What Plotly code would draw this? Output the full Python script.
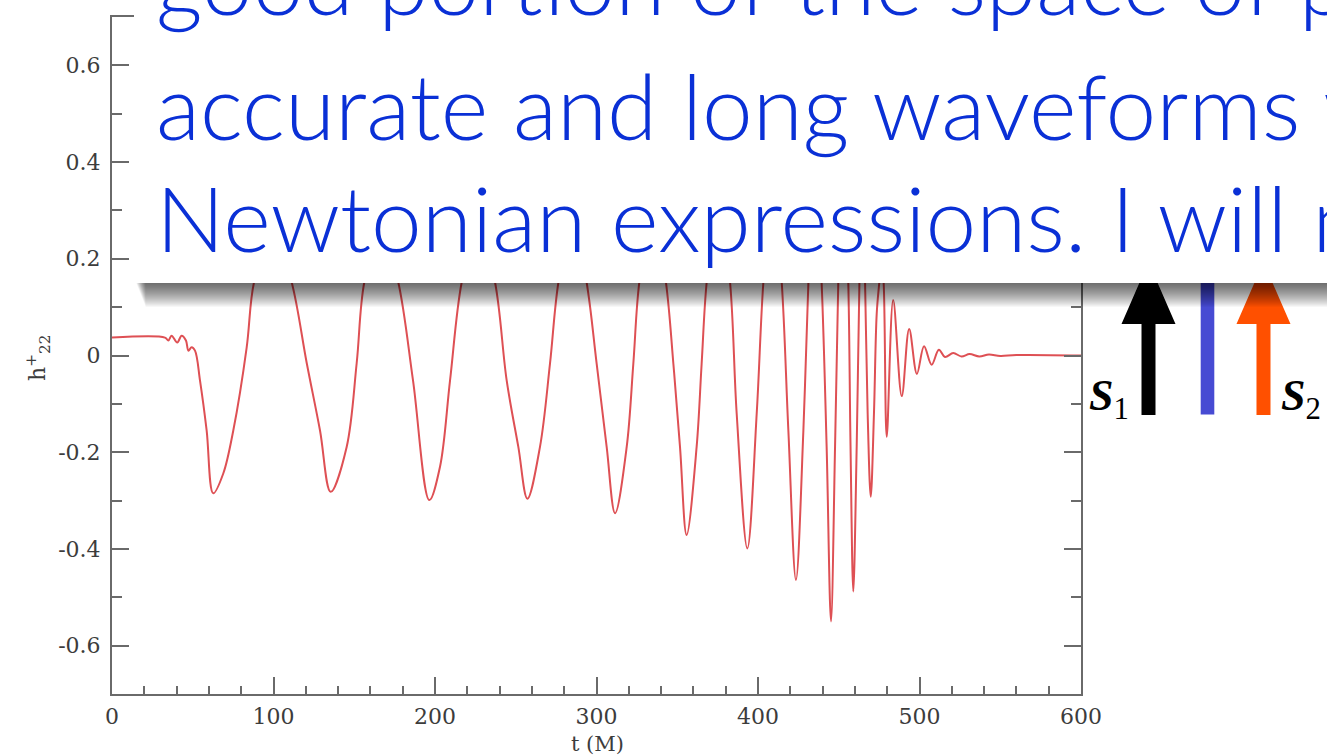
import plotly.graph_objects as go

# ---------------- data ----------------
t_M = [0, 32.8, 34.9, 36.9, 40.4, 43.1, 45.8, 47.3, 49.3, 51.4, 54.5, 58.6, 62.7, 68.9, 75.1, 83.4, 87.9,
       99.5, 111.3, 120.6, 128.8, 135.4, 145.3, 151.5, 156.2,
       166.7, 177.3, 186.4, 196.5, 203.1, 209.3, 216.5,
       226.8, 237.2, 244.4, 251.6, 257.2, 265.0, 271.2, 276.4,
       285.2, 293.9, 300.1, 306.3, 311.5, 318.7, 322.8, 326.5,
       334.8, 343.0, 347.6, 351.7, 355.8, 362.0, 365.1, 368.2,
       375.4, 382.7, 386.8, 393.4, 399.2, 403.3,
       409.0, 414.7, 418.8, 423.5, 428.1, 431.2,
       435.3, 439.4, 442.5, 445.2, 447.7, 449.7,
       452.8, 455.9, 457.3, 459.0, 461.1, 462.8,
       464.6, 466.3, 467.9, 469.8, 471.8, 473.5, 475.1,
       476.5, 477.8, 479.7, 483.7, 489.0, 493.6, 498.4, 502.8, 507.5, 512.0, 515.8,
       520.9, 526.0, 531.0, 537.0, 543.0, 550.0, 560.0, 600.0]
h22 = [0.037, 0.037, 0.031, 0.041, 0.027, 0.041, 0.031, 0.010, 0.017, 0.010, -0.052, -0.155, -0.285, -0.244, -0.155, 0.017, 0.151,
       0.27, 0.151, -0.016, -0.155, -0.282, -0.189, -0.016, 0.151,
       0.27, 0.151, -0.052, -0.299, -0.230, -0.052, 0.151,
       0.28, 0.151, -0.052, -0.189, -0.296, -0.189, -0.017, 0.151,
       0.29, 0.151, -0.017, -0.189, -0.326, -0.189, -0.017, 0.151,
       0.31, 0.151, -0.017, -0.189, -0.371, -0.189, -0.017, 0.151,
       0.34, 0.151, -0.120, -0.399, -0.120, 0.151,
       0.37, 0.151, -0.155, -0.464, -0.155, 0.151,
       0.42, 0.151, -0.189, -0.550, -0.189, 0.151,
       0.46, 0.151, -0.189, -0.488, -0.189, 0.151,
       0.40, 0.151, -0.120, -0.292, -0.120, 0.086, 0.151,
       0.20, 0.151, -0.168, 0.115, -0.084, 0.055, -0.038, 0.019, -0.019, 0.012, -0.003,
       0.005, -0.002, 0.003, -0.002, 0.002, -0.001, 0.001, 0.0]

x_ticks = [0, 100, 200, 300, 400, 500, 600]
x_ticktext = ["0", "100", "200", "300", "400", "500", "600"]
y_ticks = [-0.6, -0.4, -0.2, 0, 0.2, 0.4, 0.6]
y_ticktext = ["-0.6", "-0.4", "-0.2", "0", "0.2", "0.4", "0.6"]

slide_lines = ["good portion of the space of parameters",
               "accurate and long waveforms with",
               "Newtonian expressions. I will now"]

# ---------------- layout helpers ----------------
W, H = 1327, 756
L, R, T, B = 112, 246, 17, 62
PW, PH = W - L - R, H - T - B


def px(x):
    return (x - L) / PW


def py(y):
    return (H - B - y) / PH


AX = "#6a6a6a"
TXT = "#3c3c3c"
TICKFONT = dict(family="DejaVu Serif", size=22, color=TXT)

fig = go.Figure()
fig.add_trace(go.Scatter(x=t_M, y=h22, mode="lines",
                         line=dict(color="#de5054", width=2, shape="spline", smoothing=1.0),
                         hoverinfo="skip", showlegend=False))

axis_common = dict(showline=True, linecolor=AX, linewidth=2, mirror="ticks",
                   ticks="inside", tickcolor=AX, tickwidth=1.5, ticklen=17,
                   showgrid=False, zeroline=False, tickfont=TICKFONT)

fig.update_xaxes(range=[0, 600], tickmode="array", tickvals=x_ticks, ticktext=x_ticktext,
                 minor=dict(tickmode="linear", tick0=0, dtick=20, ticks="inside", ticklen=8,
                            tickcolor=AX, tickwidth=1.5, showgrid=False),
                 ticklabelstandoff=2, **axis_common)
fig.update_yaxes(range=[-0.7, 0.7], tickmode="array", tickvals=y_ticks, ticktext=y_ticktext,
                 minor=dict(tickmode="linear", tick0=0, dtick=0.1, ticks="inside", ticklen=10,
                            tickcolor=AX, tickwidth=1.5, showgrid=False),
                 ticklabelstandoff=5, **axis_common)

shapes = []


def arrow_path(cx, half_shaft, half_head, y_bottom, y_base, y_tip):
    pts = [(cx - half_shaft, y_bottom), (cx + half_shaft, y_bottom), (cx + half_shaft, y_base),
           (cx + half_head, y_base), (cx, y_tip), (cx - half_head, y_base), (cx - half_shaft, y_base)]
    return "M " + " L ".join(f"{px(a):.5f},{py(b):.5f}" for a, b in pts) + " Z"


# spin arrows, drawn first so the slide box and its shadow cover their tops
shapes.append(dict(type="path", xref="paper", yref="paper", layer="above",
                   path=arrow_path(1148.5, 7, 27, 415, 324, 262), fillcolor="#000000", line=dict(width=0)))
shapes.append(dict(type="rect", xref="paper", yref="paper", layer="above",
                   x0=px(1200.7), x1=px(1214.3), y0=py(414.5), y1=py(262),
                   fillcolor="#474bd3", line=dict(width=0)))
shapes.append(dict(type="path", xref="paper", yref="paper", layer="above",
                   path=arrow_path(1263.5, 7, 27, 415, 324, 262), fillcolor="#ff5000", line=dict(width=0)))

# white slide box
shapes.append(dict(type="rect", xref="paper", yref="paper", layer="above",
                   x0=px(134), x1=px(1400), y0=py(283), y1=py(-10),
                   fillcolor="#ffffff", line=dict(width=0)))
# soft drop shadow under the box
for k in range(1, 25):
    shapes.append(dict(type="rect", xref="paper", yref="paper", layer="above",
                       x0=px(136 + 0.4 * k), x1=px(1400), y0=py(283 + k), y1=py(283),
                       fillcolor="rgba(0,0,0,0.03)", line=dict(width=0)))

annotations = []
BLUE = "#0a30d6"
for txt, ymid in zip(slide_lines, [-20, 104, 216]):
    annotations.append(dict(text=txt, xref="paper", yref="paper", x=px(154), y=py(ymid),
                            xanchor="left", yanchor="middle", showarrow=False,
                            font=dict(family="Lato", size=91, color=BLUE, weight=300)))

annotations.append(dict(text="t (M)", xref="paper", yref="paper", x=px(597), y=py(744),
                        xanchor="center", yanchor="middle", showarrow=False,
                        font=dict(family="DejaVu Serif", size=21, color=TXT)))
annotations.append(dict(text="h<sup>+</sup><sub>22</sub>", xref="paper", yref="paper",
                        x=px(38), y=py(358), xanchor="center", yanchor="middle", textangle=-90,
                        showarrow=False, font=dict(family="DejaVu Serif", size=22, color=TXT)))
annotations.append(dict(text="<b><i>S</i></b><sub>1</sub>", xref="paper", yref="paper",
                        x=px(1087), y=py(398), xanchor="left", yanchor="middle", showarrow=False,
                        font=dict(family="Liberation Serif", size=44, color="#000000")))
annotations.append(dict(text="<b><i>S</i></b><sub>2</sub>", xref="paper", yref="paper",
                        x=px(1279), y=py(398), xanchor="left", yanchor="middle", showarrow=False,
                        font=dict(family="Liberation Serif", size=44, color="#000000")))

fig.update_layout(width=W, height=H, margin=dict(l=L, r=R, t=T, b=B),
                  paper_bgcolor="#ffffff", plot_bgcolor="#ffffff",
                  shapes=shapes, annotations=annotations, showlegend=False)

fig.write_html("out.html", config={"displayModeBar": False})
